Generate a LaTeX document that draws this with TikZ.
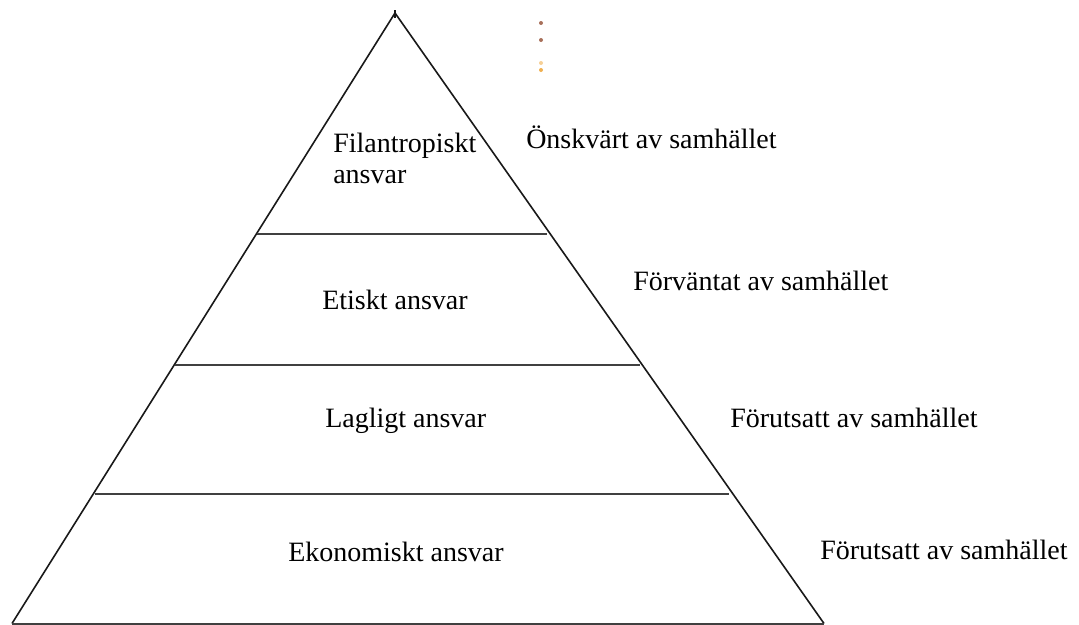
\documentclass[tikz,border=0pt]{standalone}
\usepackage{fontspec}
\setmainfont{Liberation Serif}
\definecolor{dotbrown}{HTML}{A8705A}
\definecolor{dotorange}{HTML}{F0B050}
\begin{document}
\begin{tikzpicture}[x=0.75pt,y=-0.75pt,
  lbl/.style={anchor=base west,inner sep=0pt,font=\fontsize{21}{25}\selectfont},
  edge/.style={line width=1.2pt,draw=black!90},
  tier/.style={line width=1.5pt,draw=black!75},
  speck/.style={inner sep=0pt,minimum size=3pt,circle,fill=#1}]
\useasboundingbox (0,0) rectangle (1079,625);
% triangle
\coordinate (apex) at (395,13);
\coordinate (apextop) at (395,10);
\coordinate (bl) at (12,623.5);
\coordinate (br) at (824,623.5);
\draw[edge] (bl) -- (apex) -- (br);
\draw[edge] (apextop) -- (395,18);
\draw[tier] (bl) -- (br);
% tier lines
\coordinate (l1a) at (257,233.5); \coordinate (l1b) at (547,233.5);
\coordinate (l2a) at (175,365);   \coordinate (l2b) at (640,365);
\coordinate (l3a) at (95,494);    \coordinate (l3b) at (729,494);
\draw[tier] (l1a) -- (l1b);
\draw[tier] (l2a) -- (l2b);
\draw[tier] (l3a) -- (l3b);
% labels inside
\node[lbl] (fil1) at (333,152) {Filantropiskt};
\node[lbl] (fil2) at (333,183) {ansvar};
\node[lbl] (eti) at (322,309) {Etiskt ansvar};
\node[lbl] (lag) at (325,427) {Lagligt ansvar};
\node[lbl] (eko) at (288,561) {Ekonomiskt ansvar};
% labels outside
\node[lbl] (onsk) at (526,148) {Önskvärt av samhället};
\node[lbl] (forv) at (633,290) {Förväntat av samhället};
\node[lbl] (foru1) at (730,427) {Förutsatt av samhället};
\node[lbl] (foru2) at (820,559) {Förutsatt av samhället};
% specks
\node[speck=dotbrown] (s1) at (541,23) {};
\node[speck=dotbrown] (s2) at (541,40) {};
\node[speck=dotorange!60] (s3) at (541,63) {};
\node[speck=dotorange] (s4) at (541,70) {};
\end{tikzpicture}
\end{document}
